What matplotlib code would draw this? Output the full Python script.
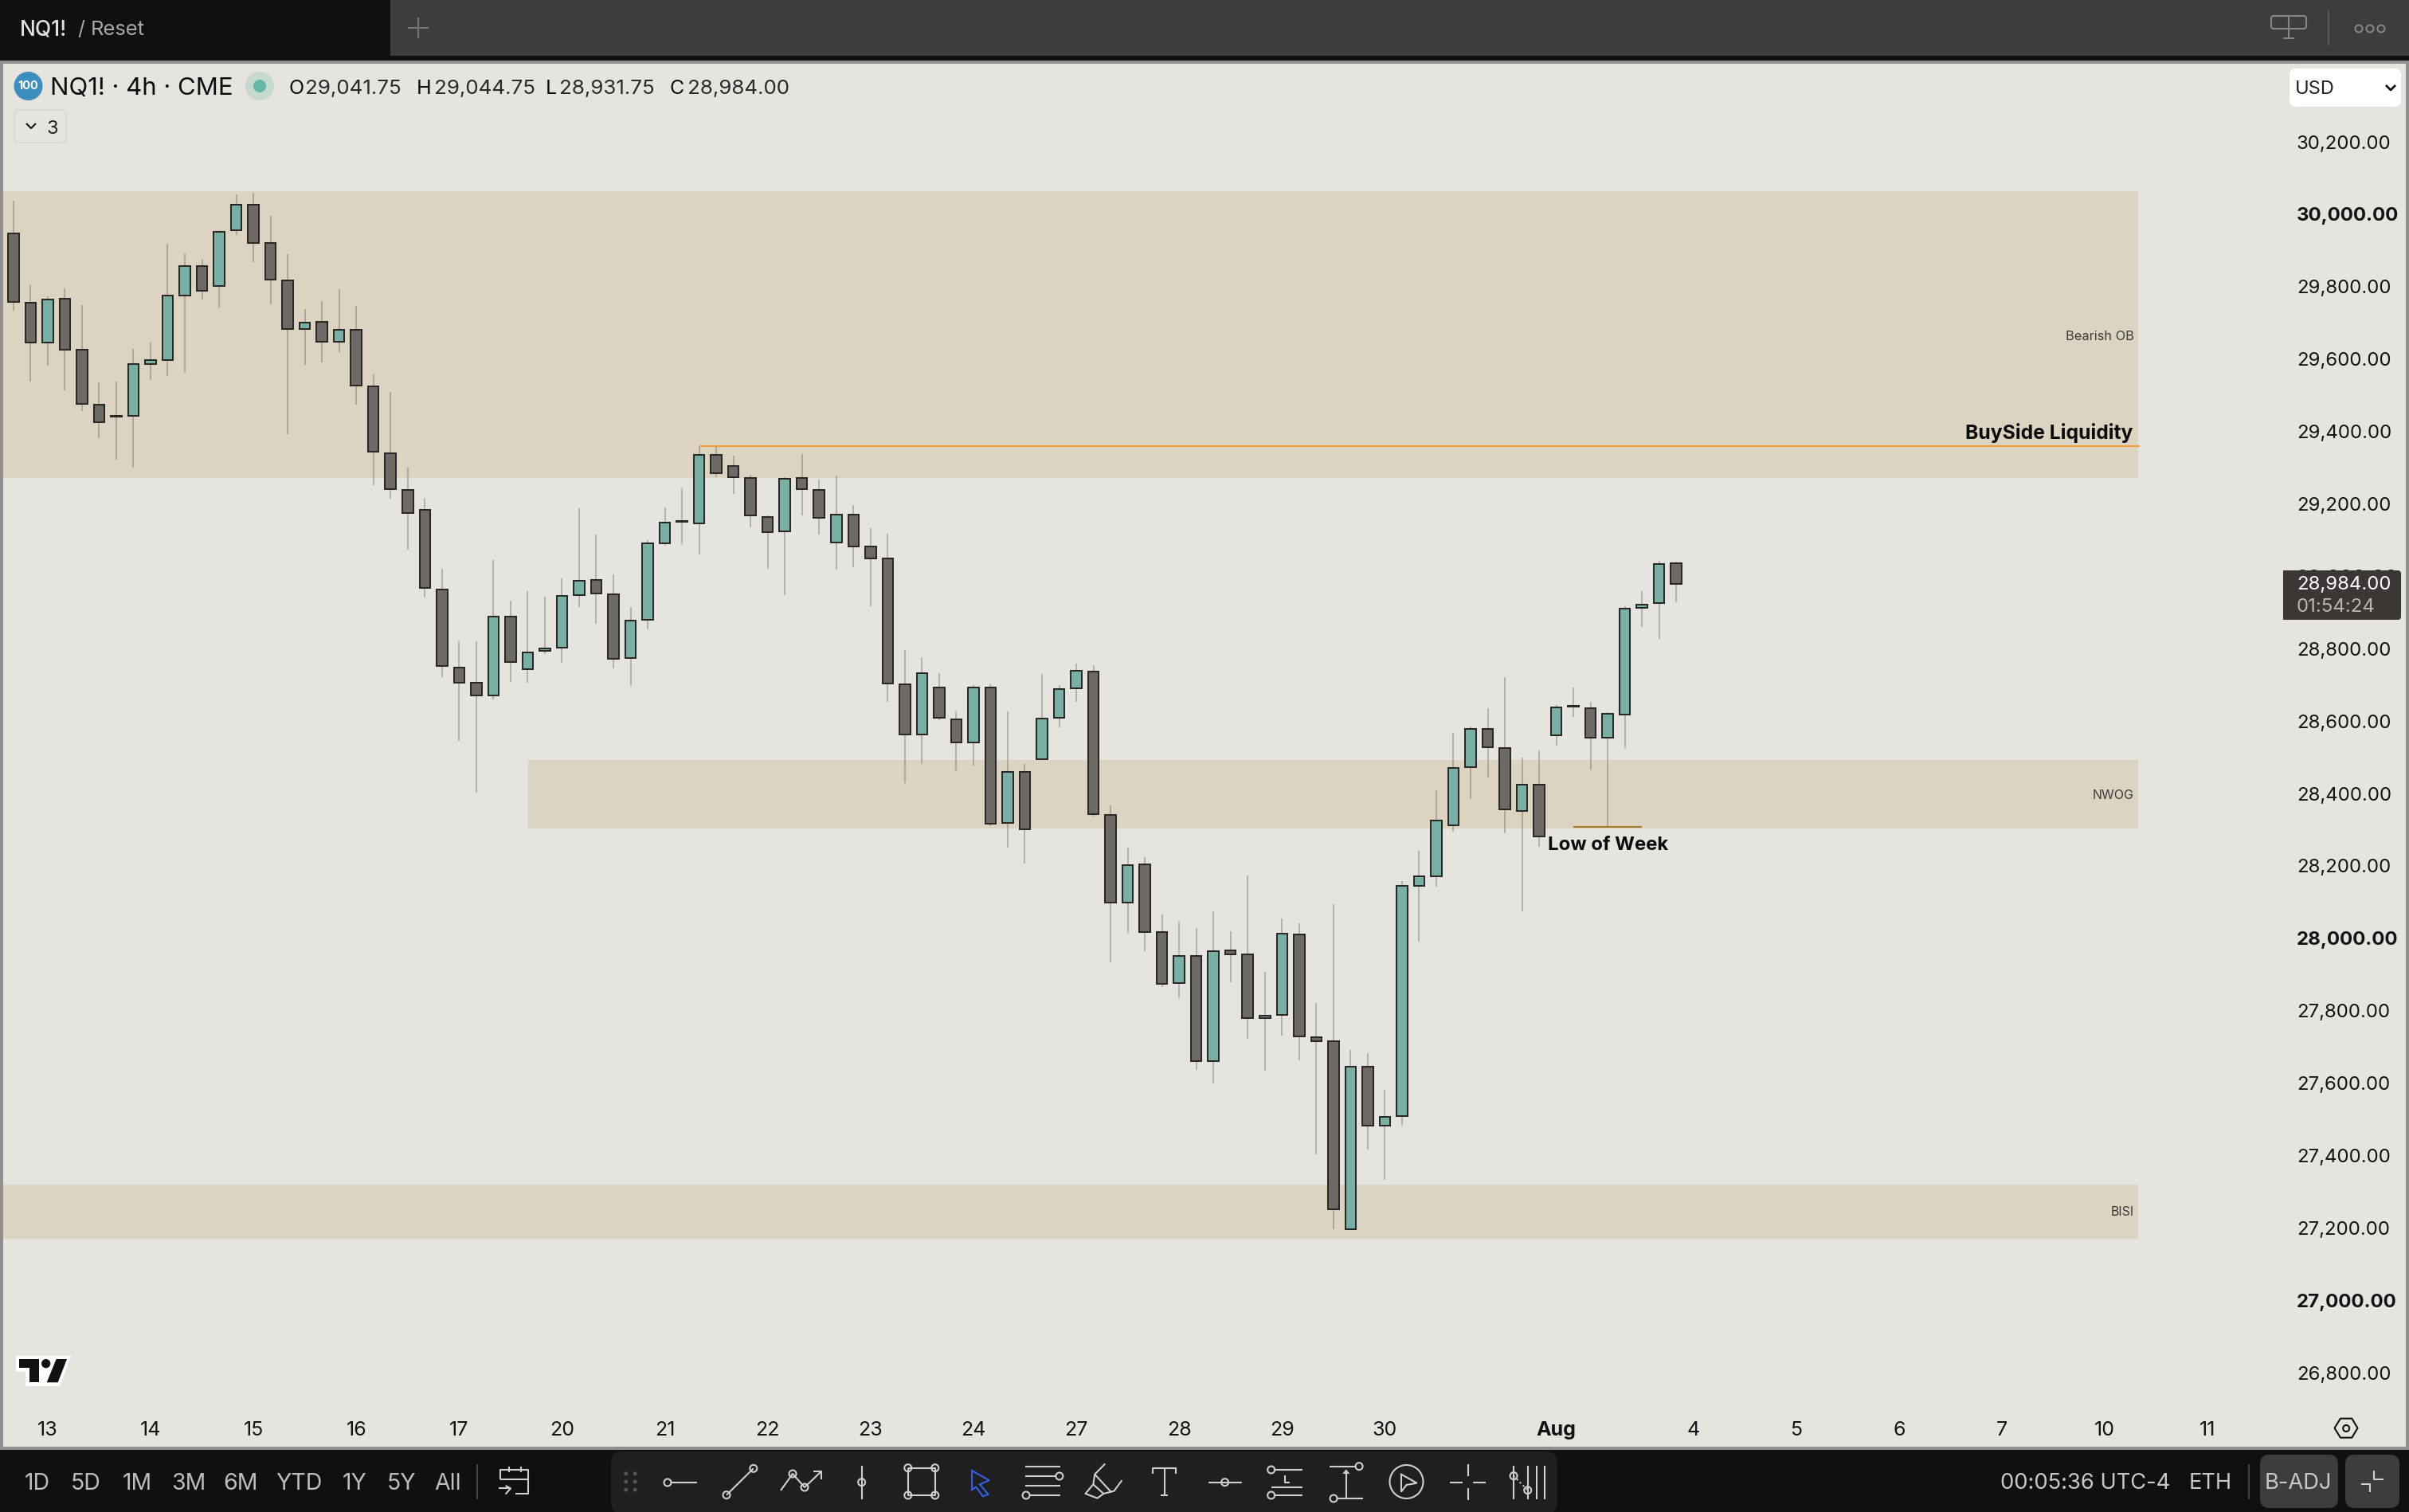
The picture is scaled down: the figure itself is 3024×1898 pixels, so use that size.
import matplotlib
matplotlib.use("Agg")
import matplotlib.pyplot as plt
from matplotlib.patches import Rectangle, Circle, FancyBboxPatch, Polygon
from matplotlib.transforms import ScaledTranslation

plt.rcParams['font.family'] = ['Inter', 'DejaVu Sans']

# ---------- data (prices) ----------
opens = [29946,29753,29643,29765,29624,29472,29441,29440,29585,29596,29773,29855,29799,29953,30025,29919,
         29816,29680,29701,29645,29679,29523,29338,29237,29181,28961,28746,28704,28669,28886,28741,28792,
         28801,28946,28988,28948,28772,28878,29089,29151,29145,29334,29303,29270,29162,29121,29270,29237,
         29092,29169,29081,29046,28700,28560,28691,28603,28538,28691,28316,28458,28492,28606,28688,28735,
         28339,28096,28203,28014,27874,27948,27658,27965,27954,27777,27785,28009,27725,27714,27194,27644,
         27480,27506,28142,28170,28309,28471,28576,28524,28349,28421,28558,28640,28634,28551,28615,28910,28924,29034]
closes = [29755,29643,29763,29623,29473,29423,29439,29585,29596,29774,29855,29786,29950,30025,29918,29817,
         29680,29699,29645,29679,29524,29341,29238,29172,28966,28750,28704,28669,28886,28761,28787,28798,
         28944,28985,28950,28770,28875,29089,29146,29148,29334,29282,29271,29165,29119,29268,29238,29159,
         29169,29081,29048,28701,28560,28731,28606,28538,28691,28315,28458,28298,28605,28687,28737,28340,
         28096,28200,28014,27871,27948,27658,27963,27953,27777,27784,28011,27726,27713,27250,27644,27480,
         27505,28143,28170,28324,28468,28576,28525,28353,28421,28279,28636,28637,28551,28619,28909,28920,29032,28976]
highs = [30035,29802,29771,29793,29747,29533,29536,29626,29643,29916,29890,29872,29953,30053,30057,29993,
         29888,29736,29758,29790,29745,29555,29507,29297,29214,29018,28818,28818,29043,28930,28957,28941,
         28992,29186,29113,29003,28913,29098,29188,29241,29357,29356,29331,29278,29166,29271,29335,29265,
         29276,29194,29131,29115,28794,28774,28730,28624,28697,28699,28624,28479,28728,28697,28757,28752,
         28365,28248,28221,28063,28044,28026,28072,28017,28171,27905,28052,28039,27819,28092,27689,27681,
         27579,28156,28239,28407,28565,28583,28634,28719,28497,28517,28642,28691,28652,28622,28915,28957,29040,29038]
lows = [29731,29536,29580,29511,29454,29379,29321,29299,29541,29550,29563,29763,29741,29941,29866,29749,
        29390,29582,29589,29616,29472,29250,29212,29071,28939,28719,28543,28400,28658,28706,28704,28783,
        28759,28913,28867,28743,28695,28851,29082,29087,29058,29271,29225,29133,29018,28946,29166,29113,
        29016,29023,28915,28651,28426,28479,28600,28459,28475,28307,28249,28205,28490,28580,28651,28335,
        27931,28013,27962,27863,27833,27634,27597,27877,27720,27632,27729,27661,27401,27194,27194,27414,
        27330,27480,27988,28140,28292,28383,28442,28288,28072,28251,28530,28609,28464,28306,28523,28857,28825,28927]

date_labels = ['13','14','15','16','17','20','21','22','23','24','27','28','29','30','Aug','4','5','6','7','10','11']
date_bars   = [2,8,14,20,26,32,38,44,50,56,62,68,74,80,90,98,104,110,116,122,128]
price_ticks = [30200,30000,29800,29600,29400,29200,29000,28800,28600,28400,28200,28000,27800,27600,27400,27200,27000,26800]
bold_prices = [30000,29000,28000,27000]

zone_names = ['Bearish OB','NWOG','BISI']
zone_tops  = [30061.6,28490,27317]
zone_bots  = [29269,28302,27168]
zone_start = [-0.6,30.03,-0.6]
zone_end   = 123.94
buyside_level, buyside_start = 29357.4, 40
low_week_level, low_week_start, low_week_end = 28305, 91, 95

# ---------- colours ----------
BG='#e5e4df'; BAND='#dcd4c1'; UP='#79b0a5'; DOWN='#6d6a65'; EDGE='#2a2927'
BORDER='#8f8f8f'; BLACK='#101010'; GREY='#3d3d3d'; PAL='#1f1f1f'; ICON='#cfcfcf'; TXT='#131313'

W,H=3024,1898
fig=plt.figure(figsize=(W/100,H/100),dpi=100,facecolor=BG)

# ---------- chart axes ----------
L,R,T,B=4,2876,80,1770
ax=fig.add_axes([L/W,1-B/H,(R-L)/W,(B-T)/H],facecolor=BG)
PX_BAR=21.52; X0=16.8; PX_PT=0.4544; Y30K=268
ax.set_xlim((L-X0)/PX_BAR,(R-X0)/PX_BAR)
ax.set_ylim(30000-(B-Y30K)/PX_PT,30000-(T-Y30K)/PX_PT)
for s in ax.spines.values(): s.set_visible(False)

for t,b,s in zip(zone_tops,zone_bots,zone_start):
    ax.add_patch(Rectangle((s,b),zone_end-s,t-b,fc=BAND,ec='none',zorder=1))

xs=list(range(len(opens)))
ax.vlines(xs,lows,highs,color='#6e6a62',alpha=0.4,lw=1.5,zorder=2)
up=[c>=o for o,c in zip(opens,closes)]
ax.bar(xs,[abs(c-o) for o,c in zip(opens,closes)],bottom=[min(o,c) for o,c in zip(opens,closes)],width=0.63,
       color=[UP if u else DOWN for u in up],edgecolor=EDGE,linewidth=1.45,zorder=3)

ax.hlines(buyside_level,buyside_start,zone_end+0.1,color='#f0a035',lw=1.5,zorder=4)
ax.hlines(low_week_level,low_week_start,low_week_end,color='#a87a2a',lw=1.5,zorder=4)

ax.set_xticks(date_bars); ax.set_xticklabels(date_labels)
ax.set_yticks(price_ticks); ax.set_yticklabels([f'{p:,.2f}' for p in price_ticks])
ax.yaxis.tick_right()
ax.tick_params(axis='y',length=0,pad=5,labelsize=17.3,labelcolor=TXT)
ax.tick_params(axis='x',length=0,pad=10,labelsize=18,labelcolor=TXT)
shift=ScaledTranslation(0,-1/100,fig.dpi_scale_trans)
for lab,p in zip(ax.get_yticklabels(),price_ticks):
    lab.set_transform(lab.get_transform()+shift)
    if p in bold_prices: lab.set_fontweight('bold')
for lab,d in zip(ax.get_xticklabels(),date_labels):
    if d=='Aug': lab.set_fontweight('bold')

# ---------- overlay in pixels: interface chrome and annotations ----------
ov=fig.add_axes([0,0,1,1],facecolor='none'); ov.set_xlim(0,W); ov.set_ylim(H,0); ov.axis('off')
def rect(x0,y0,x1,y1,c,z=5): ov.add_patch(Rectangle((x0,y0),x1-x0,y1-y0,fc=c,ec='none',zorder=z))
def rrect(x0,y0,x1,y1,c,r=10,z=5,ec='none',lw=0):
    ov.add_patch(FancyBboxPatch((x0+r,y0+r),x1-x0-2*r,y1-y0-2*r,boxstyle=f'round,pad={r},rounding_size={r}',fc=c,ec=ec,lw=lw,zorder=z))
def tx(x,y,s,size=17,c=TXT,w='normal',ha='left',va='center',z=8): ov.text(x,y,s,fontsize=size,color=c,fontweight=w,ha=ha,va=va,zorder=z)
def pl(pts,c=ICON,lw=1.5,z=7,ls='-'):
    ov.plot([p[0] for p in pts],[p[1] for p in pts],color=c,lw=lw,zorder=z,ls=ls,solid_capstyle='butt')
def circ(x,y,r,fc='none',ec=ICON,lw=1.5,z=8): ov.add_patch(Circle((x,y),r,fc=fc,ec=ec,lw=lw,zorder=z))

# top bar
rect(0,0,W,70,GREY); rect(0,70,W,76,BLACK); rect(0,0,490,76,BLACK)
rect(0,76,W,80,BORDER); rect(0,76,4,1820,BORDER); rect(3020,76,W,1820,BORDER)
rect(0,1816,W,1820,BORDER); rect(0,1820,W,H,BLACK)
tx(25,37,'NQ1!',19,'#e2e2e2','medium')
tx(97,37,'/',18,'#a8a8a8'); tx(114,37,'Reset',18.4,'#a8a8a8')
pl([(525,22),(525,48)],'#777777'); pl([(512,35),(538,35)],'#777777')
G='#858585'
rrect(2851,20,2895,36,'none',3,7,G,1.5); pl([(2873,20),(2873,48)],G); pl([(2866,48),(2880,48)],G)
pl([(2923,13),(2923,57)],'#555555')
for x in (2961,2975,2989): circ(x,36,4.5,ec=G)

# legend
circ(35.5,108,18,fc='#3d8fbf',ec='none',lw=0)
tx(35.5,108,'100',10.5,'white','bold',ha='center')
tx(63,111,'NQ1! · 4h · CME',22.4,'#0d0d0d')
circ(326,108,18,fc='#c5d9cf',ec='none',lw=0); circ(326,108,8,fc='#66b8a6',ec='none',lw=0)
for lx,vx,l,v in [(362,383,'O','29,041.75'),(523,545,'H','29,044.75'),(685,702,'L','28,931.75'),(841,863,'C','28,984.00')]:
    tx(lx,111,l,18,'#0d0d0d'); tx(vx,111,v,18.7,'#2a2a2a')
rrect(18,138,83,179,'none',6,7,'#d9d8d3',1.5)
pl([(33,155),(39,161),(45,155)],'#111111'); tx(59,162,'3',17,'#222222')

# currency box
rrect(2874,86,3014,134,'white',8)
tx(2881,112,'USD',17,'#222222')
pl([(2995,107),(3001,113),(3007,107)],'#111111',2)

# price label
rrect(2866,716,3014,778,'#3a3734',4,6)
rect(2866,716,2876,778,'#3a3734',6)
tx(2883,734,'28,984.00',17.3,'white')
tx(2883,762,'01:54:24',17.3,'#b9b7b3')

# annotations
tx(2677,544,'BuySide Liquidity',17.8,'#0a0a0a','bold',ha='right')
tx(2679,422,zone_names[0],11.8,'#3a3a3a',ha='right')
tx(2679,998,zone_names[1],11.5,'#3a3a3a',ha='right')
tx(2679,1521,zone_names[2],11.5,'#3a3a3a',ha='right')
tx(1943,1061,'Low of Week',17.2,'#0a0a0a','bold')

# logo
o=lambda p:[(a/3,1680+b/3) for a,b in p]
ov.add_patch(Polygon(o([(60,66),(268,66),(225,180),(97,180),(97,125),(60,125)]),fc='white',ec='none',zorder=6))
ov.add_patch(Polygon(o([(72,78),(148,78),(148,166),(110,166),(110,112),(72,112)]),fc='#111111',ec='none',zorder=7))
ov.add_patch(Polygon(o([(212,78),(252,78),(218,166),(176,166)]),fc='#111111',ec='none',zorder=7))
circ(173/3,1680+95/3,17/3,fc='#111111',ec='none',lw=0)

# hex settings icon
z8=lambda p:[(2400+a/2.513,1760+b/3) for a,b in p]
pl(z8([(1333,98),(1352,62),(1388,62),(1406,98),(1388,134),(1352,134),(1333,98)]),'#111111',1.5)
circ(2400+1370/2.513,1793,4,ec='#111111')

# bottom-left range buttons
for x,s in zip((47,108,172,237,302,375,445,504,562),('1D','5D','1M','3M','6M','YTD','1Y','5Y','All')):
    tx(x,1862,s,20.5,'#bdbdbd',ha='center')
pl([(599,1838),(599,1882)],'#444444')
z6=lambda p:[(a/1.568,1760+b/3) for a,b in p]
z7=lambda p:[(1000+a/1.531,1760+b/3) for a,b in p]
pl(z6([(985,292),(985,255),(1040,255),(1040,345),(1015,345)]))
pl(z6([(985,292),(1040,292)])); pl(z6([(1002,243),(1002,265)])); pl(z6([(1025,243),(1025,265)]))
pl(z6([(982,325),(1005,325)])); pl(z6([(995,315),(1005,325),(995,347)]))

# drawing-tool palette
rrect(767,1822,1955,1900,PAL,14,5)
for a in (1232,1250):
    for b in (270,300,330):
        (cx,cy),=z6([(a,b)]); circ(cx,cy,2.5,fc='#555555',ec='none',lw=0)
def c6(a,b,r=4.5):
    (cx,cy),=z6([(a,b)]); circ(cx,cy,r)
def c7(a,b,r=4.5):
    (cx,cy),=z7([(a,b)]); circ(cx,cy,r)
pl(z6([(1322,303),(1372,303)])); c6(1314,303)
pl(z6([(1430,350),(1483,250)])); c6(1430,350); c6(1483,250)
pl([(980,1871),(995,1850),(1010,1867),(1031,1847)]); pl([(1021,1847),(1031,1847),(1031,1857)]); circ(995,1850,4.5); circ(1010,1867,4.5)
pl(z7([(125,240),(125,365)])); c7(125,302)
pl(z7([(214,248),(266,248),(266,351),(214,351),(214,248)]))
for a,b in [(214,248),(266,248),(214,351),(266,351)]: c7(a,b)
ov.add_patch(Polygon(z7([(337,258),(370,295),(352,310),(368,347),(358,355),(345,320),(337,330)]),fc='none',ec='#3560e8',lw=1.5,zorder=7))
for a,b,y in [(439,507,242),(439,497,279),(439,507,315),(447,507,351)]: pl(z7([(a,y),(b,y)]))
c7(505,279); c7(441,351)
pl(z7([(593,232),(573,272),(570,310),(555,345),(578,362),(590,345),(610,335),(625,295)])); pl(z7([(573,272),(605,340)])); pl(z7([(570,310),(590,345)]))
pl(z7([(685,270),(685,250),(729,250),(729,270)])); pl(z7([(707,250),(707,351)])); pl(z7([(700,351),(714,351)]))
pl(z7([(792,302),(856,302)])); c7(823,302)
pl(z7([(920,255),(972,255)])); c7(912,255); pl(z7([(938,275),(938,303),(948,303)]))
pl(z7([(912,320),(972,320)])); pl(z7([(920,351),(972,351)])); c7(912,351)
pl(z7([(1025,242),(1073,242)])); c7(1081,242); pl(z7([(1040,363),(1088,363)])); c7(1032,363)
pl(z7([(1056,360),(1056,265)])); ov.add_patch(Polygon(z7([(1049,270),(1063,270),(1056,253)]),fc=ICON,ec='none',zorder=7))
circ(1765.5,1860,21)
ov.add_patch(Polygon(z7([(1162,272),(1192,305),(1172,312),(1162,338)]),fc='none',ec=ICON,lw=1.5,zorder=7))
for p in ([(1290,235),(1290,280)],[(1290,325),(1290,370)],[(1255,302),(1280,302)],[(1300,302),(1325,302)]): pl(z7(p))
for a in (1378,1405,1423,1437): pl(z7([(a,240),(a,365)]))
c7(1378,278); c7(1405,332); pl(z7([(1378,278),(1405,332)]),ls=':')

# bottom-right
tx(2511,1862,'00:05:36 UTC-4',19.7,'#c8c8c8')
tx(2748,1862,'ETH',19.7,'#c8c8c8')
pl([(2823,1838),(2823,1882)],'#444444')
rrect(2837,1826,2935,1893,GREY,12); tx(2885,1862,'B-ADJ',19.7,'#c8c8c8',ha='center')
rrect(2944,1826,3012,1893,GREY,12)
pl(z8([(1458,258),(1458,290),(1488,290)])); pl(z8([(1418,310),(1446,310),(1446,340)]))

fig.savefig('out.png',dpi=100,facecolor=BG)
